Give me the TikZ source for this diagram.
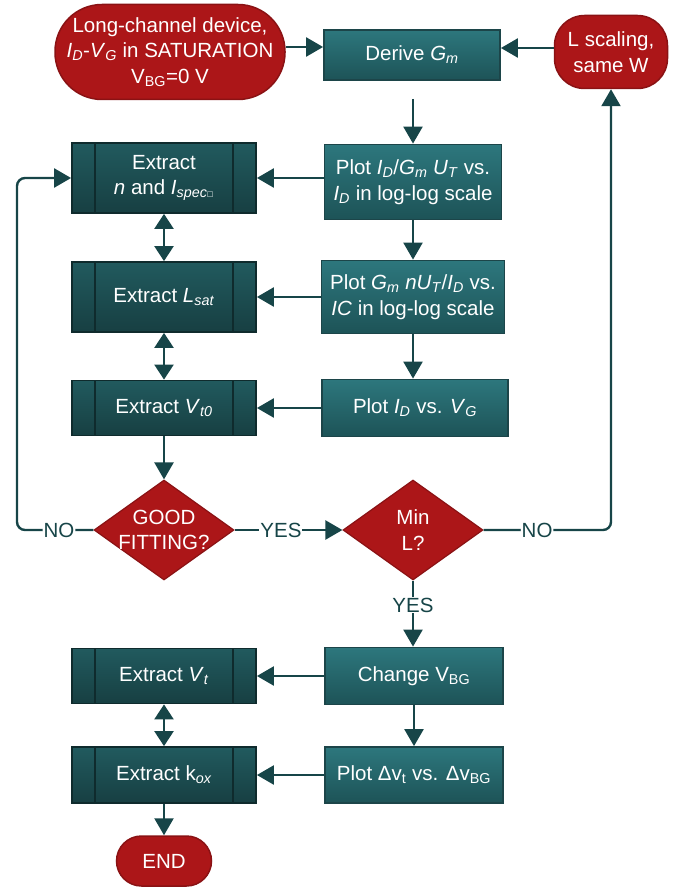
\documentclass[tikz,border=0pt]{standalone}
\usepackage{fontspec}
\setmainfont{Liberation Sans}
\newfontfamily\dejavu{DejaVu Sans}
\usetikzlibrary{shapes.geometric,arrows.meta}
\definecolor{redf}{HTML}{AC1618}
\definecolor{redd}{HTML}{8A1214}
\definecolor{tealtop}{HTML}{2D777D}
\definecolor{tealbot}{HTML}{1D5357}
\definecolor{tealbd}{HTML}{1C4549}
\definecolor{pdtop}{HTML}{215A5E}
\definecolor{pdbot}{HTML}{173F42}
\definecolor{pdbd}{HTML}{0F2B2D}
\definecolor{arr}{HTML}{174548}
\newcommand\isub[2]{\textit{#1}\textsubscript{\textit{#2}}}
\newcommand\usub[2]{#1\textsubscript{#2}}
\tikzset{
  base/.style={inner sep=0pt, align=center, text=white, font=\fontsize{20.5}{25.5}\selectfont},
  term/.style={base, draw=redd, line width=1.5pt, fill=redf},
  proc/.style={base, draw=tealbd, line width=1.8pt, top color=tealtop, bottom color=tealbot},
  predef/.style={base, draw=pdbd, line width=1.8pt, top color=pdtop, bottom color=pdbot,
    minimum width=184pt,
    path picture={
      \draw[pdbd, line width=2pt] ([xshift=23pt]path picture bounding box.north west) -- ([xshift=23pt]path picture bounding box.south west);
      \draw[pdbd, line width=2pt] ([xshift=-23pt]path picture bounding box.north east) -- ([xshift=-23pt]path picture bounding box.south east);
    }},
  diam/.style={base, shape=diamond, draw=redd, line width=1.2pt, fill=redf, minimum width=140pt, minimum height=100pt},
  conn/.style={draw=arr, line width=2.4pt, -{Triangle[length=17pt,width=19pt]}},
  dconn/.style={draw=arr, line width=2.4pt, {Triangle[length=15pt,width=19pt]}-{Triangle[length=15pt,width=19pt]}},
  lbl/.style={fill=white, inner sep=1pt, text=arr, font=\fontsize{20.5}{24}\selectfont}
}
\begin{document}
\begin{tikzpicture}[x=1pt,y=-1pt]
\useasboundingbox (0,0) rectangle (686,888);
% nodes
\node[term, rounded corners=47pt, minimum width=230pt, minimum height=95pt] (start) at (170,52)
  {Long-channel device,\\\isub{I}{D}-\isub{V}{G} in SATURATION\\\usub{V}{BG}=0 V};
\node[proc, minimum width=176pt, minimum height=50pt] (derive) at (412,55) {Derive \isub{G}{m}};
\node[term, rounded corners=30pt, minimum width=113pt, minimum height=73pt] (lscale) at (611,52) {L scaling,\\same W};
\node[proc, minimum width=177pt, minimum height=75pt] (plot1) at (413,182)
  {Plot \isub{I}{D}/\isub{G}{m} \isub{U}{T} vs.\\\isub{I}{D} in log-log scale};
\node[predef, minimum height=70pt] (extn) at (164,178)
  {Extract\\\textit{n} and \textit{I}\textsubscript{\textit{spec}\raisebox{0.15ex}{\dejavu\fontsize{7}{8}\selectfont □}}};
\node[proc, minimum width=183pt, minimum height=73pt] (plot2) at (413,297)
  {Plot \isub{G}{m} \textit{n}\isub{U}{T}/\isub{I}{D} vs.\\\textit{IC} in log-log scale};
\node[predef, minimum height=70pt] (extl) at (164,297) {Extract \isub{L}{sat}};
\node[proc, minimum width=186pt, minimum height=57pt] (plot3) at (415,408)
  {Plot \isub{I}{D} vs. \isub{V}{G}};
\node[predef, minimum height=55pt] (extv0) at (164,408) {Extract \isub{V}{t0}};
\node[diam, label={[base]center:GOOD\\FITTING?}] (good) at (164,530) {};
\node[diam, label={[base]center:Min\\L?}] (minl) at (413,530) {};
\node[proc, minimum width=178pt, minimum height=57pt] (change) at (414,676) {Change \usub{V}{BG}};
\node[predef, minimum height=55pt] (extvt) at (164,676) {Extract \isub{V}{t}};
\node[proc, minimum width=178pt, minimum height=56pt] (plot4) at (414,775)
  {Plot Δ\usub{v}{t} vs. Δ\usub{v}{BG}};
\node[predef, minimum height=56pt] (extk) at (164,775) {Extract k\textsubscript{\textit{ox}}};
\node[term, rounded corners=25pt, minimum width=95pt, minimum height=50pt] (endn) at (164,861) {END};
% helper coordinates
\coordinate (nol) at (17,530);
\coordinate (nor) at (lscale.south |- minl.east);
\coordinate (dtop) at ([yshift=-18pt]plot1.north |- derive.south);
% connectors
\draw[conn] ([yshift=5pt]start.east) -- ([yshift=5pt]start.east -| derive.west);
\draw[conn] ([yshift=4pt]lscale.west) -- ([yshift=4pt]lscale.west -| derive.east);
\draw[conn] (dtop) -- (plot1.north);
\draw[conn] (plot1.west |- extn.east) -- (extn.east);
\draw[conn] (plot1.south) -- (plot2.north);
\draw[conn] (plot2.west |- extl.east) -- (extl.east);
\draw[conn] (plot2.south) -- (plot2.south |- plot3.north);
\draw[conn] (plot3.west) -- (extv0.east);
\draw[dconn] (extn.south) -- (extl.north);
\draw[dconn] (extl.south) -- (extv0.north);
\draw[conn] (extv0.south) -- (good.north);
\draw[conn, rounded corners=8pt] (good.west) -- node[lbl, pos=0.45]{NO} (nol) -- (nol |- extn.west) -- (extn.west);
\draw[conn] (good.east) -- node[lbl, pos=0.43]{YES} (minl.west);
\draw[conn, rounded corners=8pt] (minl.east) -- node[lbl, pos=0.42]{NO} (nor) -- (lscale.south);
\draw[conn] (minl.south) -- node[lbl, pos=0.37]{YES} (minl.south |- change.north);
\draw[conn] (change.west) -- (change.west -| extvt.east);
\draw[conn] (change.south) -- (change.south |- plot4.north);
\draw[conn] (plot4.west) -- (plot4.west -| extk.east);
\draw[dconn] (extvt.south) -- (extk.north);
\draw[conn] (extk.south) -- (endn.north);
\end{tikzpicture}
\end{document}
